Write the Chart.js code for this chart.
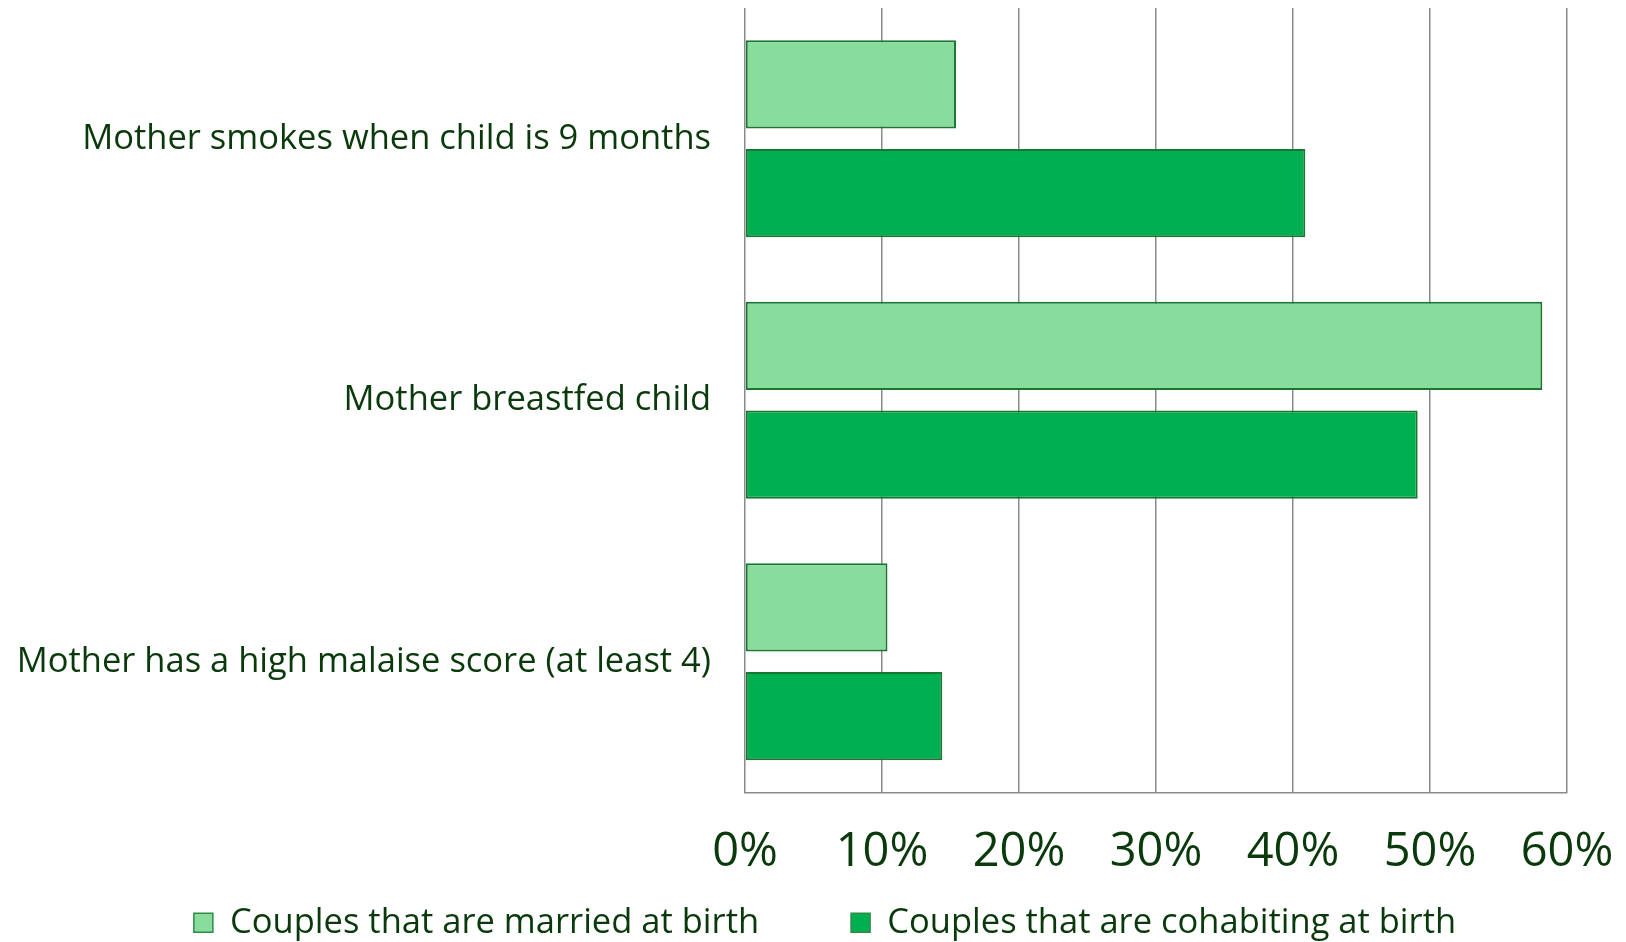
<!DOCTYPE html>
<html>
<head>
<meta charset="utf-8">
<script src="https://cdn.jsdelivr.net/npm/chart.js@4/dist/chart.umd.min.js"></script>
<style>
  html, body { margin: 0; padding: 0; background: #ffffff; }
  #wrap { width: 1626px; height: 942px; position: relative; }
</style>
</head>
<body>
<div id="wrap"><canvas id="c" width="1626" height="942"></canvas></div>
<script>
const categories = [
  "Mother smokes when child is 9 months",
  "Mother breastfed child",
  "Mother has a high malaise score (at least 4)"
];
const marriedValues = [15.4, 58.2, 10.4];
const cohabitingValues = [40.9, 49.1, 14.4];
const seriesNames = ["Couples that are married at birth", "Couples that are cohabiting at birth"];
const tickValues = [0, 10, 20, 30, 40, 50, 60];

const textColor = "#0a3a0c";
const fontFamily = "'Open Sans', Lato, sans-serif";
const legendGap = "\u2003\u2003\u2002\u2009";

new Chart(document.getElementById("c"), {
  type: "bar",
  data: {
    labels: categories,
    datasets: [
      {
        label: seriesNames[0],
        data: marriedValues,
        backgroundColor: "#88dc9c",
        borderColor: "#1b7632",
        borderWidth: 2,
        borderSkipped: false,
        categoryPercentage: 0.833,
        barPercentage: 0.81
      },
      {
        label: seriesNames[1],
        data: cohabitingValues,
        backgroundColor: "#00b050",
        borderColor: "#1b7632",
        borderWidth: 2,
        borderSkipped: false,
        categoryPercentage: 0.833,
        barPercentage: 0.81
      }
    ]
  },
  options: {
    indexAxis: "y",
    responsive: false,
    animation: false,
    layout: { padding: { top: 8, right: -8, left: 16, bottom: -8 } },
    scales: {
      x: {
        min: 0,
        max: 60,
        afterBuildTicks: (axis) => { axis.ticks = tickValues.map(v => ({ value: v })); },
        afterFit: (axis) => { axis.height = 113; axis.paddingRight = 59; axis.paddingLeft = 0; },
        ticks: {
          callback: (v) => v + "%",
          color: textColor,
          font: { family: fontFamily, size: 47 },
          padding: 32,
          maxRotation: 0
        },
        grid: { color: "#8a8a8a", lineWidth: 1.5, drawTicks: false },
        border: { color: "#8a8a8a", width: 1.5 }
      },
      y: {
        afterFit: (axis) => { axis.width = 729; axis.paddingTop = 0; axis.paddingBottom = 0; },
        ticks: {
          color: textColor,
          font: { family: fontFamily, size: 34.5 },
          padding: 34
        },
        grid: { display: false, drawTicks: false },
        border: { display: false }
      }
    },
    plugins: {
      legend: {
        position: "bottom",
        labels: {
          color: textColor,
          font: { family: fontFamily, size: 34.5 },
          boxWidth: 19,
          boxHeight: 19,
          padding: 0,
          useBorderRadius: false,
          generateLabels: (chart) => {
            const items = Chart.defaults.plugins.legend.labels.generateLabels(chart);
            items.forEach((it, i) => {
              it.lineWidth = 1.5;
              it.strokeStyle = "#2e8b46";
              if (i === 0) it.text = it.text + legendGap;
            });
            return items;
          }
        }
      },
      tooltip: { enabled: false }
    }
  }
});
</script>
</body>
</html>
